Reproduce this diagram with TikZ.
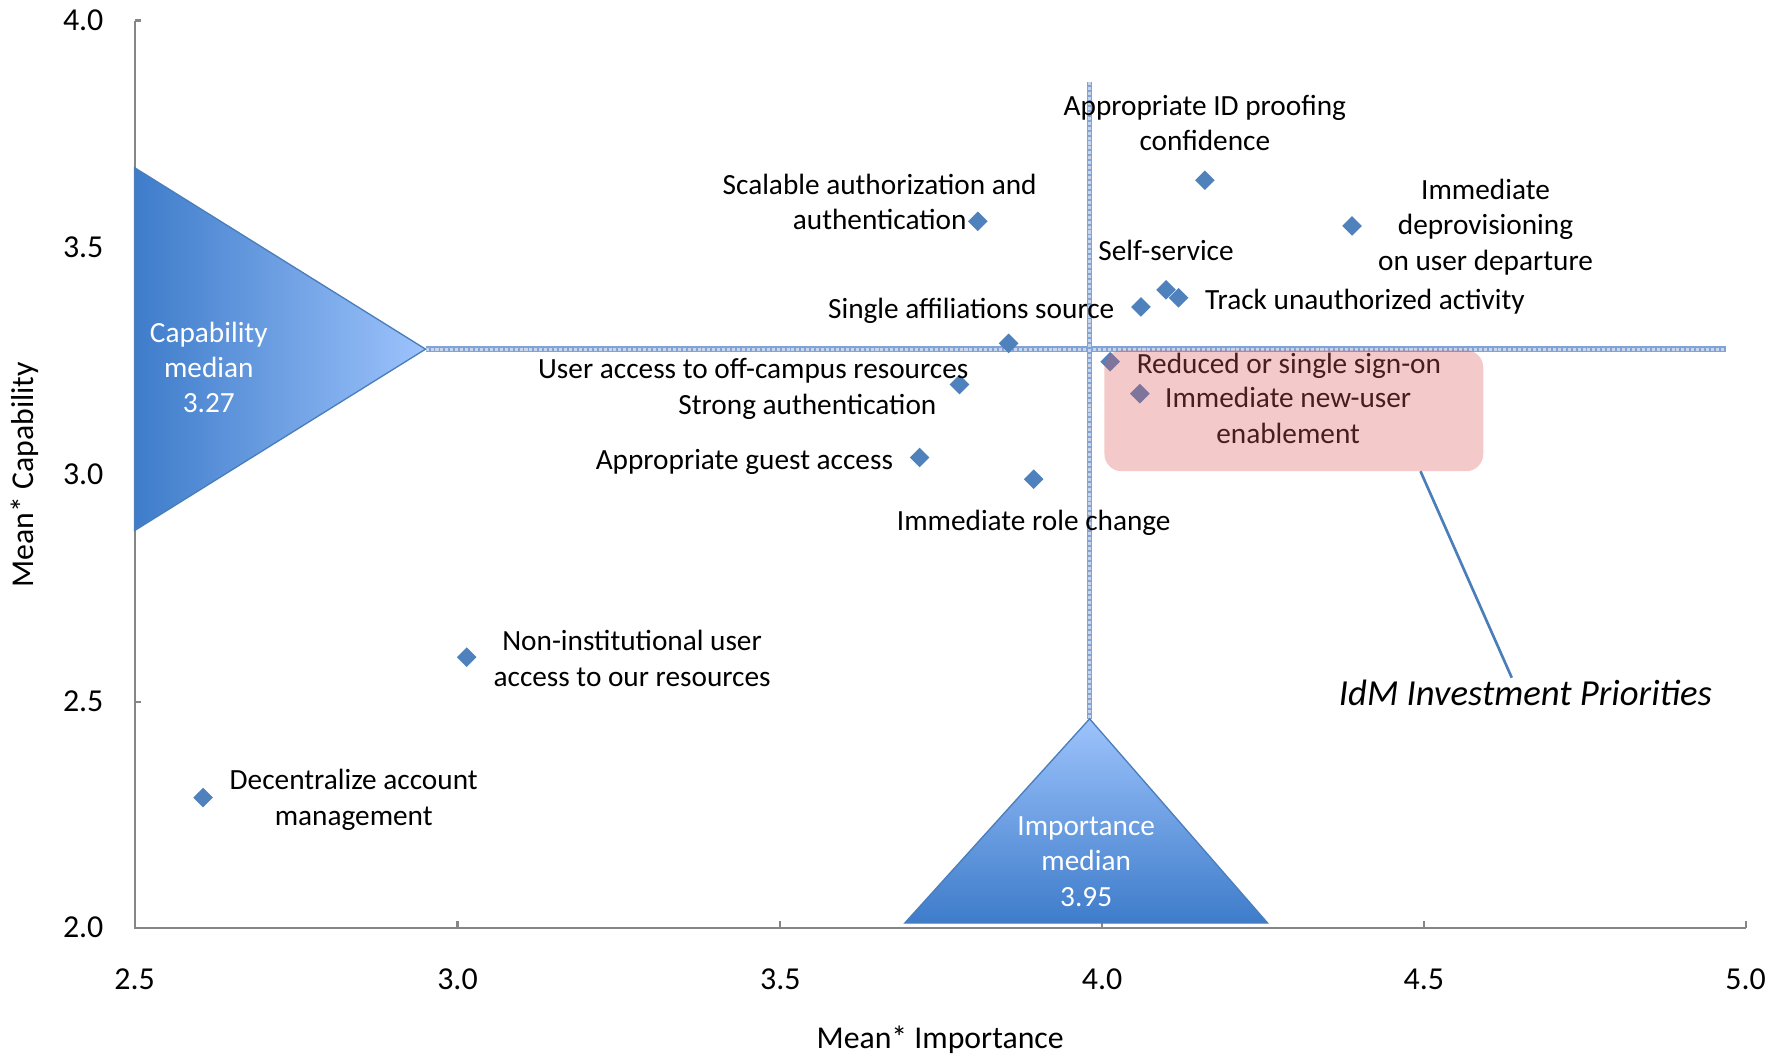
\documentclass[tikz,border=0pt]{standalone}
\usepackage{fontspec}
\setmainfont{Carlito}
\usetikzlibrary{shapes.geometric}
\definecolor{dblue}{RGB}{79,129,189}
\definecolor{edgeblue}{RGB}{74,126,187}
\definecolor{tridark}{RGB}{62,124,202}
\definecolor{trilight}{RGB}{157,195,252}
\definecolor{axisgray}{RGB}{134,134,134}
\definecolor{medline}{RGB}{130,163,214}
\definecolor{boxred}{RGB}{222,90,90}
\begin{document}
\begin{tikzpicture}[x=0.6pt,y=-0.6pt,
  dpt/.style={shape=diamond,fill=dblue,inner sep=0pt,minimum size=10.5pt},
  lblm/.style={font=\fontsize{15.4}{18.6}\selectfont,align=center,inner sep=0pt},
  lbl/.style={lblm,text height=0.68em,text depth=0.18em},
  ticklbl/.style={font=\fontsize{16.8}{20}\selectfont,inner sep=0pt},
  axtitle/.style={font=\fontsize{16.7}{20}\selectfont,inner sep=0pt},
  trilbl/.style={lblm,text=white},
  medianline/.style={line width=3pt,draw=medline},
  medianpattern/.style={line width=1.6pt,draw=white,densely dotted,draw opacity=0.55},
  axisline/.style={draw=axisgray,line width=1.1pt},
  prio/.style={fill=boxred,fill opacity=0.33,draw=none,rounded corners=9pt,minimum width=199.2pt,minimum height=63.6pt,inner sep=0pt}
]
\useasboundingbox (0,0) rectangle (1568,926.4);

% axes
\draw[axisline] (118,18) -- (118,813) -- (1530,813);
\foreach \yy in {18,217,416,615} \draw[axisline] (118,\yy) -- (124,\yy);
\foreach \xx in {401,684,966,1248,1530} \draw[axisline] (\xx,813) -- (\xx,807);

% tick labels
\node[ticklbl,anchor=east] (y40) at (91,18) {4.0};
\node[ticklbl,anchor=east] (y35) at (91,217) {3.5};
\node[ticklbl,anchor=east] (y30) at (91,416) {3.0};
\node[ticklbl,anchor=east] (y25) at (91,615) {2.5};
\node[ticklbl,anchor=east] (y20) at (91,813) {2.0};
\node[ticklbl] (x25) at (118,858) {2.5};
\node[ticklbl] (x30) at (401,858) {3.0};
\node[ticklbl] (x35) at (684,858) {3.5};
\node[ticklbl] (x40) at (966,858) {4.0};
\node[ticklbl] (x45) at (1248,858) {4.5};
\node[ticklbl] (x50) at (1530,858) {5.0};

% axis titles
\node[axtitle] (xtitle) at (824,911) {Mean* Importance};
\node[axtitle,rotate=90] (ytitle) at (22,416) {Mean* Capability};

% median lines
\coordinate (hA) at (373,306);
\coordinate (hB) at (1513,306);
\coordinate (vA) at (955,72);
\coordinate (vB) at (955,630);
\draw[medianline] (hA) -- (hB);
\draw[medianpattern] (hA) -- (hB);
\draw[medianline] (vA) -- (vB);
\draw[medianpattern] (vA) -- (vB);

% median triangles
\shadedraw[left color=tridark,right color=trilight,draw=edgeblue,line width=0.7pt]
  (118,147) -- (373,306) -- (118,465) -- cycle;
\shadedraw[top color=trilight,bottom color=tridark,draw=edgeblue,line width=0.7pt]
  (955,630) -- (1111,809) -- (793,809) -- cycle;
\node[trilbl] (capT) at (183,322) {Capability\\median\\3.27};
\node[trilbl] (impT) at (952,755) {Importance\\median\\3.95};

% data points
\node[dpt] (p1) at (1056,158) {};
\node[dpt] (p2) at (857,194) {};
\node[dpt] (p3) at (1185,198) {};
\node[dpt] (p4) at (1022,254) {};
\node[dpt] (p5) at (1033,261) {};
\node[dpt] (p6) at (1000,269) {};
\node[dpt] (p7) at (884,301) {};
\node[dpt] (p8) at (841,337) {};
\node[dpt] (p9) at (973,317) {};
\node[dpt] (p10) at (999,345) {};
\node[dpt] (p11) at (806,401) {};
\node[dpt] (p12) at (906,420) {};
\node[dpt] (p13) at (409,576) {};
\node[dpt] (p14) at (178,699) {};

% labels
\node[lblm] (l1) at (1056,108) {Appropriate ID proofing\\confidence};
\node[lblm] (l2) at (771,177) {Scalable authorization and\\authentication};
\node[lblm] (l3) at (1302,199) {Immediate\\deprovisioning\\on user departure};
\node[lbl] (l4) at (1022,224) {Self-service};
\node[lbl,anchor=west] (l5) at (1056,267) {Track unauthorized activity};
\node[lbl,anchor=east] (l6) at (977,275) {Single affiliations source};
\node[lbl,anchor=east] (l7) at (849,328) {User access to off-campus resources};
\node[lbl,anchor=east] (l8) at (821,359) {Strong authentication};
\node[lbl,anchor=west] (l9) at (996,323) {Reduced or single sign-on};
\node[lblm] (l10) at (1129,364) {Immediate new-user\\enablement};
\node[lbl,anchor=east] (l11) at (783,407) {Appropriate guest access};
\node[lbl] (l12) at (906,461) {Immediate role change};
\node[lblm] (l13) at (554,577) {Non-institutional user\\access to our resources};
\node[lblm] (l14) at (310,701) {Decentralize account\\management};

% priority box
\node[prio] (box) at (1134,360) {};
\coordinate (c1) at (1245,413);
\node[font=\fontsize{19.3}{23}\selectfont\itshape,inner sep=0pt] (idm) at (1337,607) {IdM Investment Priorities};
\coordinate (c2) at (1325,594);
\draw[edgeblue,line width=1.4pt] (c1) -- (c2);
\end{tikzpicture}
\end{document}
